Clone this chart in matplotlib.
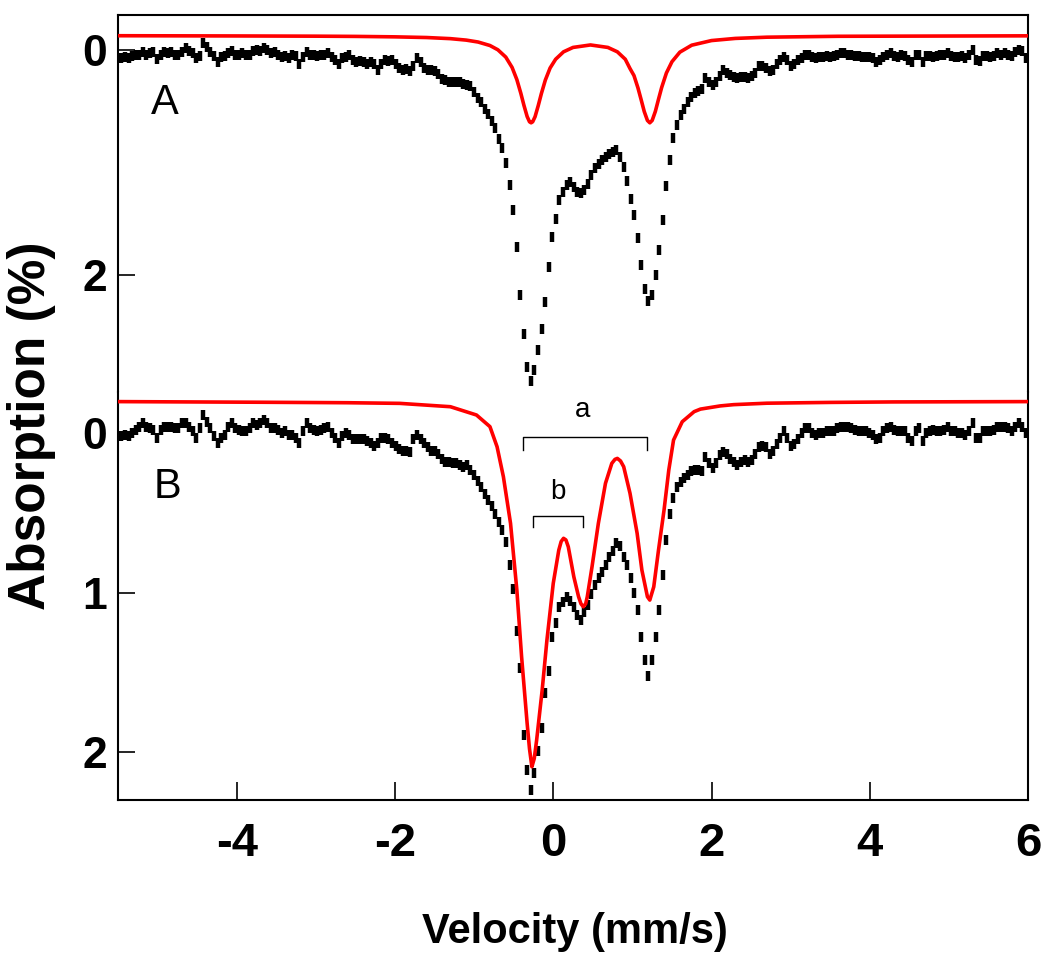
import matplotlib
matplotlib.use('Agg')
import matplotlib.pyplot as plt
import numpy as np

plt.rcParams['axes.unicode_minus'] = False

# Mossbauer spectra, absorption (%) per channel, 255 channels from -5.457 mm/s, 0.045 mm/s step
spec_a = [
    0.07, 0.06, 0.07, 0.05, 0.04, 0.04, 0.02, 0.04, 0.03, 0.02, 0.08, 0.04, 0.02, 0.03, 0.02, 0.04,
    0.04, 0.02, -0.02, 0.01, 0.03, 0.07, 0.05, -0.06, -0.03, 0.02, 0.05, 0.11, 0.06, 0.05, 0.03, 0.01,
    0.04, 0.04, 0.03, 0.04, 0.04, 0.01, 0.00, 0.01, -0.02, 0.00, 0.03, 0.02, 0.04, 0.06, 0.05, 0.07,
    0.04, 0.05, 0.12, 0.06, 0.02, 0.04, 0.04, 0.05, 0.04, 0.04, 0.03, 0.06, 0.09, 0.12, 0.07, 0.06,
    0.04, 0.09, 0.11, 0.10, 0.11, 0.12, 0.11, 0.12, 0.18, 0.12, 0.09, 0.10, 0.09, 0.12, 0.16, 0.18,
    0.17, 0.19, 0.14, 0.07, 0.11,
    0.16, 0.18, 0.18, 0.19, 0.21, 0.26, 0.27, 0.28, 0.28, 0.28, 0.28, 0.30, 0.31, 0.32,
    0.37, 0.43, 0.46, 0.52, 0.57, 0.63, 0.69, 0.79, 0.87, 1.00, 1.20, 1.42, 1.75, 2.18, 2.52, 2.82,
    2.94, 2.84, 2.67, 2.48, 2.24, 1.93, 1.66, 1.50, 1.33, 1.26, 1.20, 1.17, 1.22, 1.26, 1.27, 1.24,
    1.19, 1.11, 1.05, 1.01, 0.98, 0.95, 0.92, 0.91, 0.89, 0.95, 1.04, 1.16, 1.32, 1.47, 1.67, 1.91,
    2.12, 2.23, 2.18, 2.00, 1.78, 1.51, 1.21, 0.98, 0.78, 0.67, 0.58, 0.52, 0.46, 0.42, 0.38, 0.36,
    0.35, 0.25, 0.28, 0.31, 0.28, 0.23,
    0.18, 0.20, 0.22, 0.24, 0.25, 0.24, 0.24, 0.25, 0.23, 0.20, 0.14, 0.14, 0.16, 0.19, 0.18, 0.12,
    0.09, 0.06, 0.09, 0.14, 0.12, 0.09, 0.07, 0.04, 0.04, 0.06, 0.07, 0.06, 0.06, 0.05, 0.06, 0.05,
    0.04, 0.03, 0.03, 0.04, 0.04, 0.05, 0.05, 0.06, 0.06, 0.06, 0.07, 0.11, 0.09, 0.06, 0.04, 0.03,
    0.05, 0.06, 0.04, 0.05, 0.09, 0.11, 0.04, 0.04, 0.11, 0.05, 0.05, 0.06, 0.05, 0.04, 0.04, 0.03,
    0.05, 0.06, 0.06, 0.05, 0.07, 0.04, 0.00, 0.09, 0.10, 0.05, 0.05, 0.06, 0.05, 0.03, 0.04, 0.03,
    0.04, 0.05, 0.02, 0.00, 0.01, 0.07]

spec_b = [
    0.02, 0.01, 0.02, 0.00, -0.02, -0.04, -0.06, -0.04, -0.03, -0.02, 0.03, -0.02, -0.04, -0.04, -0.04, -0.03,
    -0.03, -0.06, -0.06, -0.04, -0.01, 0.03, -0.03, -0.11, -0.07, -0.03, 0.02, 0.06, 0.03, 0.01, -0.04, -0.06,
    -0.03, -0.02, -0.01, -0.01, -0.03, -0.06, -0.05, -0.06, -0.08, -0.06, -0.03, -0.03, -0.02, 0.00, -0.01, 0.01,
    0.01, 0.03, 0.06, -0.01, -0.06, -0.03, -0.02, -0.01, -0.02, -0.03, -0.04, 0.00, 0.03, 0.06, 0.02, 0.00,
    0.01, 0.04, 0.04, 0.04, 0.04, 0.05, 0.06, 0.08, 0.06, 0.03, 0.03, 0.04, 0.06, 0.08, 0.10, 0.11,
    0.11, 0.12, 0.04, 0.01, 0.04,
    0.06, 0.09, 0.11, 0.11, 0.13, 0.16, 0.18, 0.18, 0.19, 0.19, 0.20, 0.21, 0.20, 0.23,
    0.26, 0.30, 0.34, 0.38, 0.42, 0.46, 0.51, 0.56, 0.61, 0.68, 0.83, 0.98, 1.24, 1.47, 1.89, 2.11,
    2.24, 2.13, 1.99, 1.85, 1.63, 1.49, 1.28, 1.19, 1.09, 1.06, 1.03, 1.05, 1.09, 1.14, 1.17, 1.12,
    1.08, 1.01, 0.95, 0.91, 0.87, 0.83, 0.78, 0.74, 0.69, 0.71, 0.78, 0.83, 0.91, 1.00, 1.11, 1.28,
    1.42, 1.52, 1.42, 1.28, 1.11, 0.89, 0.67, 0.51, 0.41, 0.34, 0.31, 0.28, 0.26, 0.24, 0.23, 0.23,
    0.24, 0.15, 0.19, 0.22, 0.19, 0.14,
    0.12, 0.13, 0.16, 0.18, 0.20, 0.18, 0.17, 0.18, 0.17, 0.13, 0.09, 0.08, 0.09, 0.13, 0.11, 0.07,
    0.03, -0.01, 0.03, 0.08, 0.07, 0.04, 0.00, -0.03, -0.03, 0.00, 0.01, 0.00, 0.00, -0.01, -0.01, -0.01,
    -0.03, -0.04, -0.04, -0.04, -0.03, -0.02, -0.01, -0.01, -0.01, 0.00, 0.01, 0.04, 0.03, -0.01, -0.03, -0.04,
    -0.02, -0.01, -0.01, -0.01, 0.03, 0.05, -0.01, -0.03, 0.05, 0.00, -0.01, -0.02, -0.01, -0.01, -0.02, -0.04,
    -0.01, -0.01, 0.00, 0.00, 0.01, -0.01, -0.06, 0.03, 0.03, -0.01, -0.01, -0.01, -0.02, -0.04, -0.04, -0.04,
    -0.03, -0.01, -0.04, -0.06, -0.04, 0.00]

# fitted curves (red)
fit_a_v = [-5.5, -4.0, -3.0, -2.5, -2.0, -1.6, -1.3, -1.1, -0.95, -0.8,
           -0.7, -0.6, -0.52, -0.46, -0.41, -0.37, -0.33, -0.30, -0.28, -0.26,
           -0.23, -0.19, -0.15, -0.10, -0.04, 0.03, 0.13, 0.25, 0.47, 0.69,
           0.81, 0.91, 0.97, 1.02, 1.07, 1.11, 1.15, 1.19, 1.22, 1.25,
           1.29, 1.33, 1.37, 1.43, 1.50, 1.60, 1.75, 2.0, 2.3, 2.7,
           3.6, 6.0]
fit_a = [-0.127, -0.125, -0.123, -0.121, -0.117, -0.111, -0.101, -0.088, -0.071, -0.040,
         -0.002, 0.063, 0.155, 0.263, 0.384, 0.493, 0.591, 0.638, 0.647, 0.638,
         0.593, 0.495, 0.387, 0.267, 0.160, 0.082, 0.016, -0.023, -0.045, -0.023,
         0.016, 0.082, 0.165, 0.227, 0.336, 0.440, 0.547, 0.626, 0.647, 0.626,
         0.546, 0.438, 0.333, 0.204, 0.104, 0.019, -0.043, -0.084, -0.103, -0.114,
         -0.122, -0.126]

fit_b_v = [-5.5, -3.7, -2.6, -1.94, -1.30, -0.97, -0.80, -0.71, -0.63, -0.54,
           -0.46, -0.40, -0.33, -0.30, -0.27, -0.24, -0.21, -0.14, -0.08, 0.00,
           0.07, 0.10, 0.13, 0.16, 0.19, 0.26, 0.32, 0.35, 0.38, 0.41,
           0.43, 0.49, 0.57, 0.66, 0.74, 0.78, 0.81, 0.85, 0.89, 0.97,
           1.06, 1.12, 1.19, 1.22, 1.27, 1.33, 1.40, 1.46, 1.52, 1.63,
           1.78, 1.86, 2.11, 2.28, 2.7, 3.5, 4.3, 6.0]
fit_b = [-0.197, -0.193, -0.190, -0.186, -0.165, -0.113, -0.040, 0.086, 0.274, 0.566,
         0.984, 1.403, 1.820, 1.980, 2.092, 2.040, 1.925, 1.611, 1.298, 0.942,
         0.734, 0.680, 0.660, 0.670, 0.713, 0.901, 1.026, 1.070, 1.089, 1.070,
         1.026, 0.838, 0.566, 0.315, 0.190, 0.165, 0.159, 0.175, 0.211, 0.378,
         0.629, 0.859, 1.026, 1.047, 0.964, 0.734, 0.483, 0.232, 0.044, -0.071,
         -0.134, -0.150, -0.170, -0.178, -0.187, -0.192, -0.195, -0.197]

vel = -5.457 + 0.045 * np.arange(len(spec_a))

fig = plt.figure(figsize=(10.5, 9.63), dpi=100)
ax_a = fig.add_axes([0.1124, 0.5929, 0.8667, 0.3915])
ax_b = fig.add_axes([0.1124, 0.1693, 0.8667, 0.4236])

for ax, spec, fv, fy in [(ax_a, spec_a, fit_a_v, fit_a), (ax_b, spec_b, fit_b_v, fit_b)]:
    ax.plot(vel, spec, ls='none', marker='|', ms=7.5, mew=3.2, color='black', zorder=2)
    ax.plot(fv, fy, color='#ff0000', lw=2.6, zorder=3)
    ax.set_xlim(-5.5, 6.0)
    for s in ax.spines.values():
        s.set_linewidth(1.5)
    ax.tick_params(axis='y', direction='in', length=12, width=1.2, labelsize=32, pad=8)

ax_a.set_ylim(3.04, -0.311)
ax_b.set_ylim(2.30, -0.257)
ax_a.set_yticks([0, 2])
ax_b.set_yticks([0, 1, 2])
ax_a.spines['bottom'].set_visible(False)
ax_b.spines['top'].set_visible(False)
ax_a.tick_params(axis='x', bottom=False, labelbottom=False)
ax_b.set_xticks([-4, -2, 0, 2, 4, 6])
ax_b.tick_params(axis='x', direction='in', length=13, width=1.2, labelsize=34, pad=16)

for ax in (ax_a, ax_b):
    for lbl in ax.get_yticklabels():
        lbl.set_fontweight('bold')
        lbl.set_family(['Liberation Sans', 'DejaVu Sans'])
for lbl in ax_b.get_xticklabels():
    lbl.set_fontweight('bold')
    lbl.set_family(['Liberation Sans', 'DejaVu Sans'])

# panel letters
ax_a.text(-4.91, 0.47, 'A', fontsize=30, ha='center', va='center', family=['Liberation Sans'])
ax_b.text(-4.87, 0.34, 'B', fontsize=30, ha='center', va='center', family=['Liberation Sans'])

# doublet brackets
ax_b.plot([-0.38, -0.38, 1.18, 1.18], [0.107, 0.025, 0.025, 0.107], color='black', lw=1)
ax_b.plot([-0.25, -0.25, 0.38, 0.38], [0.59, 0.52, 0.52, 0.59], color='black', lw=1)
ax_b.text(0.37, -0.144, 'a', fontsize=20, ha='center', va='center', family=['Liberation Sans'])
ax_b.text(0.06, 0.37, 'b', fontsize=20, ha='center', va='center', family=['Liberation Sans'])

fig.text(575 / 1050, 1 - 932 / 963, 'Velocity (mm/s)', ha='center', va='center',
         fontsize=30, fontweight='bold', family=['Liberation Sans'])
fig.text(32 / 1050, 1 - 426 / 963, 'Absorption (%)', rotation=90, ha='center', va='center',
         fontsize=37, fontweight='bold', family=['Liberation Sans'])

fig.savefig('out.png', dpi=100)
